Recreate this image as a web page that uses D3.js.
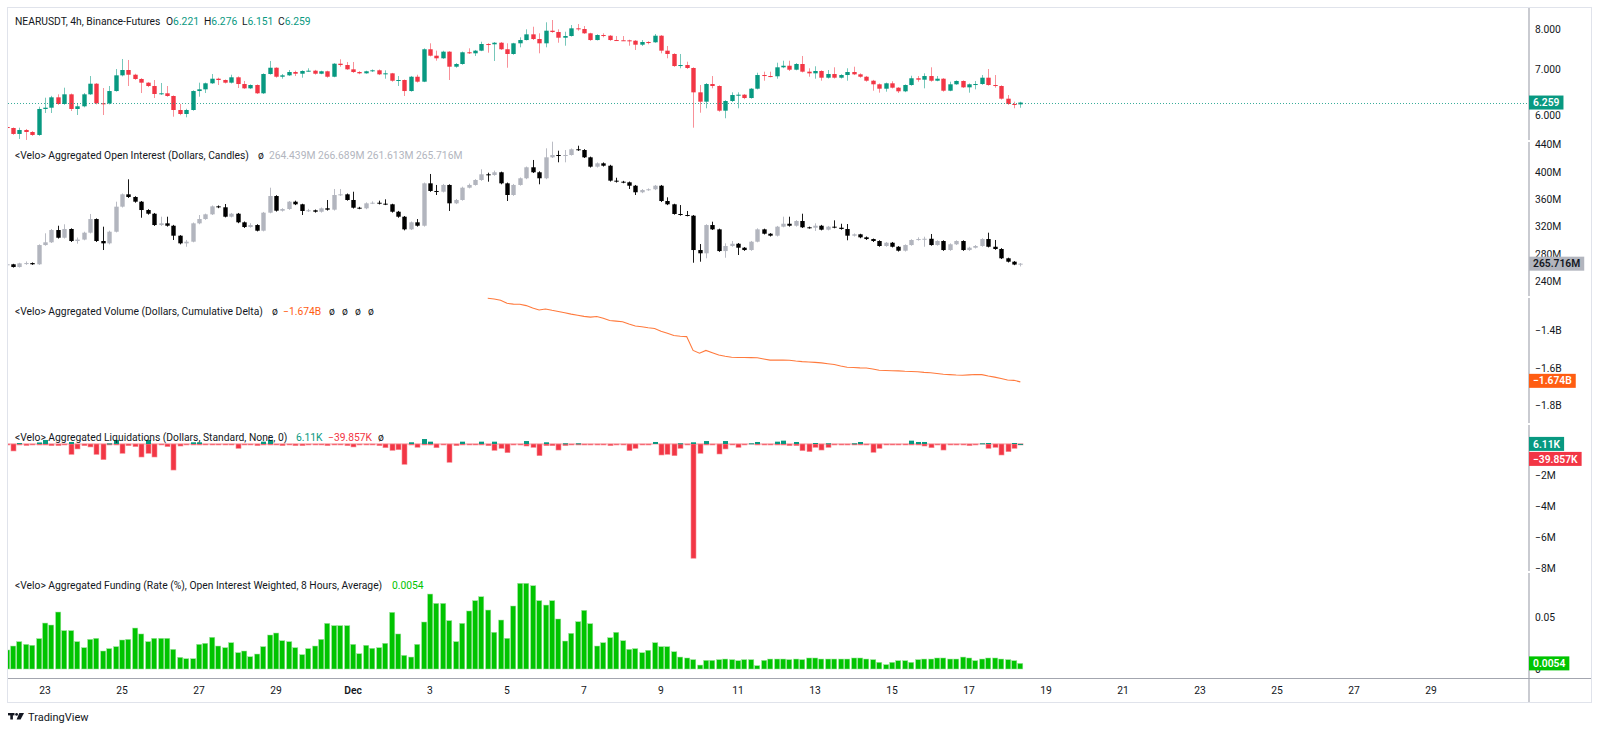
<!DOCTYPE html>
<html>
<head>
<meta charset="utf-8">
<script src="https://cdn.jsdelivr.net/npm/d3@7"></script>
<style>
  html, body { margin: 0; background: #fff; }
  svg { display: block; font-family: Roboto, "Noto Sans", sans-serif; }
</style>
</head>
<body>
<svg id="chart" width="1600" height="732"></svg>
<script>
// ── DATA ────────────────────────────────────────────────────────────────
// 4h bars from 2024-11-22 00:00 UTC, index i -> start + i*4h
const barStart = '2024-11-22T00:00:00Z';

// NEARUSDT price (open = previous close)
const priceOpen0 = 5.768;
const priceClose = [
  5.749, 5.636, 5.711, 5.673, 5.617, 6.126, 6.152, 6.369, 6.229, 6.433,
  6.126, 6.181, 6.433, 6.665, 6.243, 6.240, 6.504, 6.854, 6.977, 6.868,
  6.771, 6.688, 6.614, 6.440, 6.455, 6.397, 6.105, 6.024, 6.105, 6.504,
  6.541, 6.674, 6.777, 6.748, 6.688, 6.809, 6.658, 6.563, 6.636, 6.455,
  6.884, 7.030, 6.822, 6.854, 6.930, 6.891, 6.954, 6.961, 6.891, 6.947,
  6.822, 7.125, 7.094, 6.993, 6.930, 6.900, 6.947, 6.970, 6.877, 6.900,
  6.732, 6.748, 6.504, 6.822, 6.710, 7.477, 7.318, 7.255, 7.417, 7.054,
  7.118, 7.402, 7.377, 7.442, 7.609, 7.602, 7.642, 7.477, 7.360, 7.627,
  7.711, 7.859, 7.737, 7.627, 7.955, 7.920, 7.771, 7.815, 8.018, 8.000,
  7.886, 7.711, 7.841, 7.823, 7.711, 7.705, 7.703, 7.693, 7.592, 7.660,
  7.653, 7.823, 7.442, 7.360, 7.070, 7.094, 7.024, 6.476, 6.277, 6.658,
  6.614, 6.091, 6.291, 6.418, 6.425, 6.354, 6.555, 6.861, 6.838, 6.832,
  7.040, 7.077, 6.984, 7.118, 6.938, 6.900, 6.954, 6.800, 6.884, 6.800,
  6.861, 6.930, 6.877, 6.822, 6.732, 6.652, 6.555, 6.674, 6.577, 6.498,
  6.636, 6.787, 6.755, 6.838, 6.732, 6.777, 6.511, 6.652, 6.726, 6.585,
  6.652, 6.658, 6.800, 6.636, 6.614, 6.340, 6.229, 6.221, 6.259
];
const priceHigh = [
  5.78, 5.76, 5.755, 5.73, 5.69, 6.173, 6.361, 6.40, 6.433, 6.577,
  6.45, 6.250, 6.46, 6.838, 6.68, 6.570, 6.614, 7.000, 7.238, 7.214,
  6.89, 6.79, 6.70, 6.748, 6.681, 6.614, 6.41, 6.229, 6.13, 6.52,
  6.688, 6.69, 6.884, 6.80, 6.76, 6.868, 6.83, 6.726, 6.65, 6.65,
  6.90, 7.190, 7.04, 6.884, 6.977, 6.961, 6.97, 7.017, 6.98, 6.96,
  6.96, 7.14, 7.231, 7.166, 7.166, 6.95, 6.96, 6.99, 6.99, 6.970,
  6.91, 6.838, 6.76, 6.84, 6.868, 7.50, 7.627, 7.442, 7.44, 7.43,
  7.14, 7.42, 7.501, 7.46, 7.668, 7.63, 7.66, 7.66, 7.627, 7.64,
  7.781, 7.992, 8.061, 7.886, 8.181, 8.244, 7.992, 7.928, 8.107, 8.134,
  8.080, 7.90, 7.86, 7.886, 7.84, 7.815, 7.815, 7.72, 7.71, 7.711,
  7.68, 7.867, 7.84, 7.559, 7.38, 7.360, 7.173, 7.04, 6.636, 6.68,
  6.838, 6.63, 6.31, 6.476, 6.476, 6.44, 6.57, 6.914, 6.938, 6.938,
  7.149, 7.197, 7.197, 7.14, 7.311, 7.017, 7.064, 6.97, 6.977, 7.040,
  6.88, 7.017, 7.054, 6.900, 6.84, 6.75, 6.67, 6.69, 6.719, 6.59,
  6.65, 6.845, 6.838, 6.900, 7.040, 6.838, 6.79, 6.710, 6.74, 6.74,
  6.67, 6.726, 6.861, 7.000, 6.861, 6.63, 6.418, 6.277, 6.276
];
const priceLow = [
  5.73, 5.62, 5.543, 5.524, 5.60, 5.60, 6.044, 6.044, 6.21, 6.21,
  6.085, 6.004, 6.16, 6.42, 6.22, 6.004, 6.22, 6.49, 6.83, 6.614,
  6.75, 6.461, 6.59, 6.354, 6.42, 6.38, 5.970, 6.00, 5.958, 6.09,
  6.382, 6.461, 6.66, 6.636, 6.67, 6.67, 6.570, 6.55, 6.55, 6.44,
  6.44, 6.87, 6.80, 6.777, 6.84, 6.838, 6.800, 6.94, 6.87, 6.88,
  6.80, 6.81, 7.054, 6.98, 6.91, 6.88, 6.89, 6.93, 6.86, 6.777,
  6.71, 6.614, 6.397, 6.49, 6.69, 6.70, 7.30, 7.197, 7.24, 6.748,
  7.03, 7.10, 7.36, 7.311, 7.43, 7.392, 7.190, 7.46, 7.030, 7.34,
  7.526, 7.70, 7.711, 7.377, 7.526, 7.90, 7.642, 7.566, 7.80, 7.955,
  7.87, 7.69, 7.70, 7.781, 7.69, 7.69, 7.69, 7.566, 7.459, 7.559,
  7.602, 7.64, 7.377, 7.255, 7.05, 7.017, 7.00, 5.755, 6.050, 6.140,
  6.563, 6.07, 5.939, 6.27, 6.140, 6.33, 6.34, 6.54, 6.732, 6.809,
  6.777, 7.02, 6.954, 6.97, 6.92, 6.822, 6.777, 6.732, 6.78, 6.78,
  6.78, 6.732, 6.86, 6.80, 6.71, 6.511, 6.468, 6.490, 6.56, 6.461,
  6.48, 6.62, 6.710, 6.563, 6.71, 6.72, 6.49, 6.50, 6.64, 6.57,
  6.468, 6.541, 6.64, 6.62, 6.577, 6.32, 6.21, 6.140, 6.151
];

// Aggregated open interest, millions of dollars (open = previous close)
const oiOpen0 = 264.3;
const oiClose = [
  264.8, 260.8, 266.2, 266.6, 264.8, 293.0, 297.0, 315.0, 303.7, 316.5,
  298.9, 301.0, 311.1, 331.1, 298.9, 295.5, 312.5, 349.2, 367.3, 363.4,
  356.5, 344.3, 338.9, 322.3, 324.8, 321.3, 306.7, 295.5, 297.9, 324.8,
  331.1, 338.0, 349.7, 348.3, 334.5, 338.9, 326.3, 319.4, 322.3, 314.0,
  340.4, 364.8, 343.3, 345.8, 356.5, 352.7, 342.9, 343.9, 341.8, 346.8,
  344.8, 366.3, 367.3, 359.0, 347.7, 346.8, 354.1, 355.0, 353.6, 352.7,
  341.8, 334.5, 316.0, 326.3, 321.3, 383.4, 372.2, 371.1, 381.0, 354.1,
  359.0, 377.0, 381.0, 388.3, 396.6, 395.6, 399.6, 383.4, 366.3, 381.0,
  390.8, 406.9, 399.6, 390.8, 421.5, 424.9, 423.9, 424.9, 433.3, 432.2,
  421.5, 407.8, 412.7, 409.2, 387.3, 385.8, 384.9, 379.9, 370.3, 373.6,
  374.7, 379.9, 357.5, 352.7, 338.5, 337.0, 336.0, 285.7, 280.9, 322.3,
  316.0, 284.2, 291.6, 294.9, 289.1, 285.7, 297.9, 316.0, 309.6, 306.7,
  319.9, 324.2, 321.3, 328.2, 319.0, 318.4, 321.3, 315.5, 319.9, 318.4,
  316.5, 306.7, 308.7, 304.3, 301.8, 298.9, 291.6, 296.4, 290.5, 284.7,
  293.0, 300.4, 301.8, 302.2, 293.0, 298.9, 285.7, 294.1, 298.9, 285.7,
  289.1, 291.6, 301.8, 290.5, 287.2, 273.6, 268.6, 264.439, 265.716
];
const oiHigh = [
  265.5, 265.5, 267.0, 269.0, 267.5, 294.0, 310.2, 316.5, 321.3, 323.4,
  317.5, 304.0, 312.5, 338.5, 332.0, 319.9, 314.0, 356.5, 368.5, 389.3,
  364.5, 357.5, 345.5, 340.0, 334.5, 334.5, 322.5, 307.5, 300.5, 326.0,
  337.0, 339.0, 351.0, 351.0, 353.1, 340.0, 340.0, 327.5, 325.0, 323.5,
  341.5, 377.0, 366.0, 347.0, 357.5, 358.0, 353.5, 346.0, 345.0, 348.0,
  359.0, 375.1, 375.1, 368.5, 371.1, 349.0, 355.5, 357.0, 358.0, 360.0,
  353.5, 343.0, 335.5, 327.5, 331.1, 384.5, 397.1, 381.0, 382.5, 382.0,
  360.5, 378.5, 383.0, 389.5, 404.0, 399.0, 402.0, 400.5, 384.5, 382.5,
  392.0, 408.0, 417.6, 401.0, 434.7, 444.4, 431.2, 432.2, 434.5, 438.5,
  433.5, 422.5, 414.0, 414.0, 410.5, 391.6, 387.0, 386.0, 381.0, 375.0,
  376.0, 381.0, 381.0, 362.9, 353.5, 351.6, 342.9, 337.0, 294.5, 323.5,
  327.2, 317.0, 295.5, 298.9, 296.0, 290.0, 299.0, 317.5, 317.0, 310.5,
  321.0, 334.5, 334.5, 329.5, 338.9, 320.0, 324.8, 322.5, 321.0, 329.2,
  324.2, 323.8, 310.0, 309.5, 305.5, 302.5, 300.0, 297.5, 297.5, 291.5,
  294.0, 301.5, 304.3, 305.2, 309.2, 300.0, 300.0, 295.5, 300.0, 300.0,
  290.5, 293.0, 303.0, 311.1, 300.4, 288.5, 274.5, 269.5, 266.689
];
const oiLow = [
  263.6, 260.0, 260.0, 264.0, 264.0, 264.0, 292.0, 296.0, 302.5, 302.5,
  297.5, 295.0, 300.0, 310.0, 297.5, 285.7, 294.0, 311.5, 348.0, 362.0,
  355.0, 333.0, 337.5, 321.0, 321.0, 320.0, 300.4, 294.0, 290.5, 297.0,
  323.5, 330.0, 337.0, 347.0, 333.5, 333.5, 325.0, 318.0, 318.5, 313.0,
  313.0, 339.5, 342.0, 342.0, 344.5, 351.5, 337.0, 341.5, 340.5, 340.5,
  343.5, 343.5, 365.0, 358.0, 346.5, 345.5, 345.5, 353.0, 352.5, 351.5,
  340.5, 333.0, 314.5, 315.0, 320.0, 320.0, 371.0, 366.3, 370.0, 342.9,
  353.0, 358.0, 376.0, 380.0, 387.0, 385.8, 394.5, 382.0, 357.5, 365.0,
  380.0, 389.5, 398.5, 382.0, 389.5, 420.5, 414.2, 414.2, 424.0, 431.0,
  420.5, 406.5, 406.5, 408.0, 386.0, 384.5, 383.5, 375.1, 366.3, 369.0,
  372.5, 373.5, 356.0, 351.5, 337.5, 336.0, 335.0, 267.1, 268.6, 273.6,
  315.0, 283.0, 274.4, 290.5, 278.4, 284.5, 284.5, 297.0, 308.5, 305.5,
  305.5, 319.0, 320.0, 320.0, 318.0, 317.0, 313.6, 314.5, 314.5, 317.5,
  315.5, 300.0, 305.5, 303.0, 300.5, 297.5, 290.5, 290.5, 289.5, 283.5,
  283.5, 292.0, 299.5, 290.5, 292.0, 292.0, 284.5, 284.5, 293.0, 284.5,
  284.5, 288.0, 290.5, 289.5, 286.0, 272.5, 267.5, 263.5, 261.613
];

// Cumulative volume delta, billions of dollars, starts at bar 75
const cvdStart = 75;
const cvd = [
  -1.2325, -1.236, -1.243, -1.259, -1.263, -1.264, -1.271, -1.284, -1.294, -1.289,
  -1.296, -1.302, -1.309, -1.316, -1.322, -1.328, -1.332, -1.329, -1.338, -1.350,
  -1.353, -1.356, -1.368, -1.379, -1.383, -1.388, -1.392, -1.407, -1.417, -1.429,
  -1.433, -1.435, -1.508, -1.523, -1.508, -1.520, -1.532, -1.539, -1.544, -1.545,
  -1.545, -1.546, -1.547, -1.553, -1.559, -1.559, -1.559, -1.560, -1.564, -1.567,
  -1.569, -1.571, -1.574, -1.578, -1.582, -1.590, -1.597, -1.598, -1.600, -1.601,
  -1.606, -1.613, -1.614, -1.615, -1.616, -1.618, -1.619, -1.621, -1.624, -1.626,
  -1.630, -1.634, -1.636, -1.638, -1.639, -1.637, -1.635, -1.636, -1.643, -1.649,
  -1.656, -1.664, -1.666, -1.674
];

// Liquidations, thousands of dollars (long = drawn below zero, short = above)
const liqLong = [
  30, 450, 60, 100, 30, 30, 60, 110, 110, 30,
  670, 320, 110, 190, 670, 1010, 30, 60, 600, 110,
  170, 840, 600, 840, 60, 170, 1680, 130, 60, 30,
  60, 30, 30, 30, 30, 30, 280, 30, 30, 110,
  60, 30, 60, 110, 30, 110, 110, 30, 30, 30,
  110, 30, 30, 110, 190, 30, 30, 30, 110, 240,
  410, 370, 1310, 60, 210, 30, 60, 240, 30, 1180,
  110, 60, 30, 30, 30, 110, 410, 280, 560, 65,
  65, 130, 215, 755, 110, 110, 390, 110, 30, 30,
  65, 65, 65, 30, 110, 30, 30, 430, 280, 30,
  30, 0, 710, 665, 755, 280, 30, 7370, 600, 30,
  65, 645, 320, 30, 215, 30, 0, 65, 65, 30,
  30, 65, 110, 110, 430, 495, 215, 390, 215, 65,
  65, 65, 30, 30, 65, 535, 280, 65, 65, 65,
  30, 30, 65, 130, 240, 65, 390, 30, 65, 65,
  110, 30, 0, 280, 215, 710, 495, 280, 39.857
];
const liqShort = [
  0, 0, 60, 0, 0, 100, 260, 0, 0, 0,
  130, 0, 0, 0, 0, 0, 40, 260, 0, 0,
  0, 0, 260, 0, 0, 0, 0, 0, 0, 110,
  110, 0, 0, 0, 0, 0, 0, 0, 0, 0,
  150, 260, 0, 0, 0, 0, 0, 0, 0, 0,
  0, 0, 0, 0, 0, 0, 0, 0, 0, 0,
  0, 0, 0, 110, 0, 320, 150, 0, 0, 0,
  0, 150, 0, 0, 150, 0, 150, 0, 0, 0,
  0, 190, 0, 0, 110, 0, 0, 45, 0, 45,
  0, 0, 0, 0, 0, 0, 0, 0, 0, 0,
  0, 130, 0, 0, 0, 45, 0, 110, 0, 190,
  0, 0, 190, 0, 0, 0, 45, 130, 0, 0,
  150, 215, 0, 130, 0, 0, 65, 0, 45, 0,
  0, 0, 45, 130, 0, 0, 0, 0, 0, 0,
  0, 215, 130, 130, 0, 0, 0, 0, 0, 0,
  0, 0, 45, 65, 0, 0, 0, 65, 6.11
];

// Funding rate, % per 8h
const funding = [
  0.0183, 0.0221, 0.0263, 0.0237, 0.0228, 0.0292, 0.0442, 0.0423, 0.0548, 0.0369,
  0.0369, 0.0263, 0.0205, 0.0285, 0.0295, 0.0173, 0.0196, 0.0215, 0.0279, 0.0285,
  0.0394, 0.0337, 0.0263, 0.0295, 0.0295, 0.0295, 0.0189, 0.0112, 0.0099, 0.0099,
  0.0237, 0.0247, 0.0305, 0.0221, 0.0205, 0.0253, 0.0157, 0.0173, 0.0118, 0.0144,
  0.0215, 0.0327, 0.0346, 0.0272, 0.0263, 0.0205, 0.0138, 0.0196, 0.0221, 0.0285,
  0.0439, 0.0417, 0.0417, 0.0417, 0.0237, 0.0147, 0.0228, 0.0199, 0.0205, 0.0247,
  0.0545, 0.0337, 0.0131, 0.0115, 0.0237, 0.0452, 0.0721, 0.0631, 0.0631, 0.0465,
  0.0263, 0.0439, 0.0558, 0.0657, 0.0695, 0.0567, 0.0353, 0.0471, 0.0295, 0.0606,
  0.0824, 0.0824, 0.0801, 0.0657, 0.0615, 0.0657, 0.0481, 0.0269, 0.0343, 0.0455,
  0.0564, 0.0436, 0.0221, 0.0253, 0.0301, 0.0353, 0.0272, 0.0189, 0.0196, 0.0157,
  0.0180, 0.0253, 0.0215, 0.0215, 0.0166, 0.0115, 0.0106, 0.0090, 0.0038, 0.0083,
  0.0083, 0.0090, 0.0096, 0.0090, 0.0080, 0.0090, 0.0090, 0.0032, 0.0083, 0.0096,
  0.0096, 0.0096, 0.0090, 0.0096, 0.0090, 0.0106, 0.0106, 0.0096, 0.0096, 0.0096,
  0.0096, 0.0096, 0.0106, 0.0106, 0.0096, 0.0090, 0.0064, 0.0042, 0.0064, 0.0080,
  0.0080, 0.0064, 0.0090, 0.0096, 0.0096, 0.0106, 0.0106, 0.0096, 0.0096, 0.0115,
  0.0106, 0.0080, 0.0096, 0.0106, 0.0106, 0.0096, 0.0090, 0.0080, 0.0054
];

// axis ticks
const xTickDates  = ['2024-11-23','2024-11-25','2024-11-27','2024-11-29','2024-12-01','2024-12-03','2024-12-05',
                     '2024-12-07','2024-12-09','2024-12-11','2024-12-13','2024-12-15','2024-12-17','2024-12-19',
                     '2024-12-21','2024-12-23','2024-12-25','2024-12-27','2024-12-29'];
const xTickLabels = ['23','25','27','29','Dec','3','5','7','9','11','13','15','17','19','21','23','25','27','29'];
const priceTicks = [6, 7, 8];
const oiTicks    = [240, 280, 320, 360, 400, 440];
const cvdTicks   = [-1.8, -1.6, -1.4];
const liqTicks   = [-8000, -6000, -4000, -2000];
const fundTicks  = [0, 0.05];

// ── LAYOUT ──────────────────────────────────────────────────────────────
const TXT = '#131722', UP = '#089981', DN = '#f23645';
const OI_UP = '#b2b5be', OI_DN = '#000000';
const CVD_C = '#ff7a3d', CVD_L = '#ff5d12', FUND_C = '#00c400';
const FS = 10.3;
const LEFT = 8, AXX = 1529, RIGHT = 1591, TOP = 8, XAXIS = 678, BOTTOM = 702;
const N = priceClose.length;

const svg = d3.select('#chart');

const t0 = new Date(barStart);
const barTime = i => new Date(+t0 + i * 4 * 3600e3);
const x = d3.scaleUtc()
  .domain([t0, new Date('2024-12-29T00:00:00Z')])
  .range([6.5, 1431]);

const yPrice = d3.scaleLog().domain([5.505, 8.581]).range([141, 8]);
const yOI    = d3.scaleLinear().domain([216.9, 445.4]).range([297, 141]);
const yCVD   = d3.scaleLinear().domain([-1.8968, -1.2256]).range([424, 297]);
const yLiq   = d3.scaleLinear().domain([-8258, 1290]).range([572, 424]);
const yFund  = d3.scaleLinear().domain([-0.00865, 0.0933]).range([678, 572]);

// frame
svg.append('rect').attr('x', LEFT - 0.5).attr('y', TOP - 0.5)
  .attr('width', RIGHT - LEFT + 1).attr('height', BOTTOM - TOP + 1)
  .attr('fill', 'none').attr('stroke', '#e0e3eb');

svg.append('defs').append('clipPath').attr('id', 'plot')
  .append('rect').attr('x', LEFT).attr('y', TOP).attr('width', AXX - LEFT - 1).attr('height', XAXIS - TOP);
const plot = svg.append('g').attr('clip-path', 'url(#plot)');

// ── CANDLES ─────────────────────────────────────────────────────────────
function candles(y, open0, close, high, low, upC, dnC, wickOp) {
  const rows = close.map((c, i) => {
    const o = i ? close[i - 1] : open0;
    return { i, o, c, h: Math.max(high[i], o, c), l: Math.min(low[i], o, c) };
  });
  const g = plot.append('g');
  g.selectAll('line').data(rows).join('line')
    .attr('x1', d => Math.round(x(barTime(d.i))) + 0.5).attr('x2', d => Math.round(x(barTime(d.i))) + 0.5)
    .attr('y1', d => y(d.h)).attr('y2', d => y(d.l))
    .attr('stroke', d => d.c >= d.o ? upC : dnC).attr('stroke-opacity', wickOp).attr('stroke-width', 1);
  g.selectAll('rect').data(rows).join('rect')
    .attr('x', d => Math.round(x(barTime(d.i))) - 1.7)
    .attr('width', 4.4)
    .attr('y', d => Math.min(y(d.o), y(d.c)))
    .attr('height', d => Math.max(1, Math.abs(y(d.o) - y(d.c))))
    .attr('fill', d => d.c >= d.o ? upC : dnC);
}

candles(yPrice, priceOpen0, priceClose, priceHigh, priceLow, UP, DN, 0.55);
candles(yOI, oiOpen0, oiClose, oiHigh, oiLow, OI_UP, OI_DN, 0.9);

// last price dotted line
const lastPrice = priceClose[N - 1];
svg.append('line').attr('x1', LEFT).attr('x2', AXX)
  .attr('y1', Math.round(yPrice(lastPrice)) + 0.5).attr('y2', Math.round(yPrice(lastPrice)) + 0.5)
  .attr('stroke', UP).attr('stroke-width', 1).attr('stroke-dasharray', '1,2').attr('opacity', 0.8);

// ── CUMULATIVE DELTA ────────────────────────────────────────────────────
plot.append('path')
  .datum(cvd.map((v, k) => ({ i: cvdStart + k, v })))
  .attr('fill', 'none').attr('stroke', CVD_C).attr('stroke-width', 1.1)
  .attr('d', d3.line().x(d => x(barTime(d.i))).y(d => yCVD(d.v)));

// ── LIQUIDATIONS ────────────────────────────────────────────────────────
plot.append('line').attr('x1', LEFT).attr('x2', x(barTime(N - 1)) + 3)
  .attr('y1', yLiq(0)).attr('y2', yLiq(0))
  .attr('stroke', '#f7a1a8').attr('stroke-width', 1);
const liqG = plot.append('g');
liqG.selectAll('rect.long').data(liqLong.map((v, i) => ({ i, v })).filter(d => d.v > 0)).join('rect')
  .attr('class', 'long')
  .attr('x', d => Math.round(x(barTime(d.i))) - 2)
  .attr('width', 5)
  .attr('y', yLiq(0))
  .attr('height', d => Math.max(1, yLiq(-d.v) - yLiq(0)))
  .attr('fill', DN).attr('stroke', '#f88c95').attr('stroke-width', 0.6);
liqG.selectAll('rect.short').data(liqShort.map((v, i) => ({ i, v })).filter(d => d.v > 0)).join('rect')
  .attr('class', 'short')
  .attr('x', d => Math.round(x(barTime(d.i))) - 2)
  .attr('width', 5)
  .attr('y', d => yLiq(d.v))
  .attr('height', d => Math.max(1, yLiq(0) - yLiq(d.v)))
  .attr('fill', UP);

// ── FUNDING ─────────────────────────────────────────────────────────────
plot.append('g').selectAll('rect').data(funding.map((v, i) => ({ i, v }))).join('rect')
  .attr('x', d => Math.round(x(barTime(d.i))) - 2.4)
  .attr('width', 5.2)
  .attr('y', d => yFund(d.v))
  .attr('height', d => yFund(0) - yFund(d.v))
  .attr('fill', FUND_C).attr('stroke', '#9de39d').attr('stroke-width', 0.5);

// ── RIGHT AXES ──────────────────────────────────────────────────────────
function rightAxis(scale, ticks, fmt) {
  const g = svg.append('g').attr('transform', `translate(${AXX},0)`)
    .call(d3.axisRight(scale).tickValues(ticks).tickFormat(fmt).tickSize(0).tickPadding(6));
  g.select('.domain').remove();
  g.selectAll('text').attr('font-size', FS).attr('font-family', 'Roboto, sans-serif').attr('fill', TXT);
}
rightAxis(yPrice, priceTicks, d3.format('.3f'));
rightAxis(yOI, oiTicks, d => d + 'M');
rightAxis(yCVD, cvdTicks, d => d3.format('.1f')(d) + 'B');
rightAxis(yLiq, liqTicks, d => d3.format('d')(d / 1000) + 'M');
rightAxis(yFund, fundTicks, d => d === 0 ? '0' : d3.format('.2f')(d));

// axis separator segments (one per pane)
[[TOP, 140], [142, 296], [298, 423], [425, 571], [573, BOTTOM]].forEach(([a, b]) => {
  svg.append('line').attr('x1', AXX).attr('x2', AXX).attr('y1', a).attr('y2', b)
    .attr('stroke', '#c4c6cc').attr('stroke-width', 1.8);
});

// last value labels
function lastLabel(yc, text, bg, fg) {
  const g = svg.append('g');
  const r = g.append('rect').attr('x', AXX).attr('y', yc - 7).attr('height', 14).attr('fill', bg);
  const t = g.append('text').attr('x', AXX + 4).attr('y', yc + 3.6)
    .attr('font-size', FS).attr('font-weight', 600).attr('fill', fg).text(text);
  r.attr('width', t.node().getComputedTextLength() + 8);
}
const fmtMinus = s => s.replace('-', '\u2212');
lastLabel(yPrice(lastPrice), d3.format('.3f')(lastPrice), UP, '#fff');
lastLabel(yOI(oiClose[N - 1]), d3.format('.3f')(oiClose[N - 1]) + 'M', OI_UP, TXT);
lastLabel(yCVD(cvd[cvd.length - 1]) - 1, fmtMinus(d3.format('.3f')(cvd[cvd.length - 1])) + 'B', CVD_L, '#fff');
const liqY = yLiq(liqShort[N - 1]);
lastLabel(liqY, d3.format('.2f')(liqShort[N - 1]) + 'K', UP, '#fff');
lastLabel(liqY + 15, '\u2212' + d3.format('.3f')(liqLong[N - 1]) + 'K', DN, '#fff');
lastLabel(yFund(funding[N - 1]), d3.format('.4f')(funding[N - 1]), FUND_C, '#fff');

// ── X AXIS ──────────────────────────────────────────────────────────────
svg.append('line').attr('x1', LEFT).attr('x2', RIGHT).attr('y1', XAXIS + 0.5).attr('y2', XAXIS + 0.5)
  .attr('stroke', '#a3a6af').attr('stroke-width', 1);
svg.append('g').selectAll('text').data(xTickDates).join('text')
  .attr('x', d => x(new Date(d + 'T00:00:00Z')))
  .attr('y', 693.5)
  .attr('text-anchor', 'middle')
  .attr('font-size', FS)
  .attr('font-weight', (d, k) => xTickLabels[k] === 'Dec' ? 600 : 400)
  .attr('fill', TXT)
  .text((d, k) => xTickLabels[k]);

// ── LEGENDS ─────────────────────────────────────────────────────────────
// parts: [text, colour, absolute x (optional, otherwise follows previous)]
function header(y, parts) {
  const t = svg.append('text').attr('y', y).attr('font-size', FS).attr('fill', TXT);
  parts.forEach(([s, c, px]) => {
    const sp = t.append('tspan').attr('fill', c || TXT).text(s);
    if (px != null) sp.attr('x', px);
  });
}
const f3 = d3.format('.3f');
header(24.6, [
  ['NEARUSDT, 4h, Binance-Futures', TXT, 15],
  ['O', TXT, 166], [f3(priceClose[N - 2]), UP],
  ['H', TXT, 204], [f3(priceHigh[N - 1]), UP],
  ['L', TXT, 242], [f3(priceLow[N - 1]), UP],
  ['C', TXT, 278], [f3(lastPrice), UP]
]);
header(158.6, [
  ['<Velo> Aggregated Open Interest (Dollars, Candles)', TXT, 15],
  ['\u00f8', TXT, 258],
  [f3(oiClose[N - 2]) + 'M', OI_UP, 269], [f3(oiHigh[N - 1]) + 'M', OI_UP, 318],
  [f3(oiLow[N - 1]) + 'M', OI_UP, 367], [f3(oiClose[N - 1]) + 'M', OI_UP, 416]
]);
header(314.6, [
  ['<Velo> Aggregated Volume (Dollars, Cumulative Delta)', TXT, 15],
  ['\u00f8', TXT, 272], [fmtMinus(f3(cvd[cvd.length - 1])) + 'B', CVD_L, 283],
  ['\u00f8', TXT, 329], ['\u00f8', TXT, 342], ['\u00f8', TXT, 355], ['\u00f8', TXT, 368]
]);
header(440.6, [
  ['<Velo> Aggregated Liquidations (Dollars, Standard, None, 0)', TXT, 15],
  [d3.format('.2f')(liqShort[N - 1]) + 'K', UP, 296],
  ['\u2212' + f3(liqLong[N - 1]) + 'K', DN, 328],
  ['\u00f8', TXT, 378]
]);
header(588.6, [
  ['<Velo> Aggregated Funding (Rate (%), Open Interest Weighted, 8 Hours, Average)', TXT, 15],
  [d3.format('.4f')(funding[N - 1]), FUND_C, 392]
]);

// ── TRADINGVIEW MARK ────────────────────────────────────────────────────
const logo = svg.append('g').attr('transform', 'translate(8,713)').attr('fill', TXT);
logo.append('rect').attr('x', 0).attr('y', 0).attr('width', 6.5).attr('height', 2.4);
logo.append('rect').attr('x', 2.3).attr('y', 0).attr('width', 2.6).attr('height', 6.5);
logo.append('circle').attr('cx', 8.6).attr('cy', 1.4).attr('r', 1.4);
logo.append('path').attr('d', 'M11.3,0 H16 L12.6,6.5 H8.6 Z');
svg.append('text').attr('x', 28).attr('y', 721).attr('font-size', 11).attr('fill', TXT).text('TradingView');
</script>
</body>
</html>
